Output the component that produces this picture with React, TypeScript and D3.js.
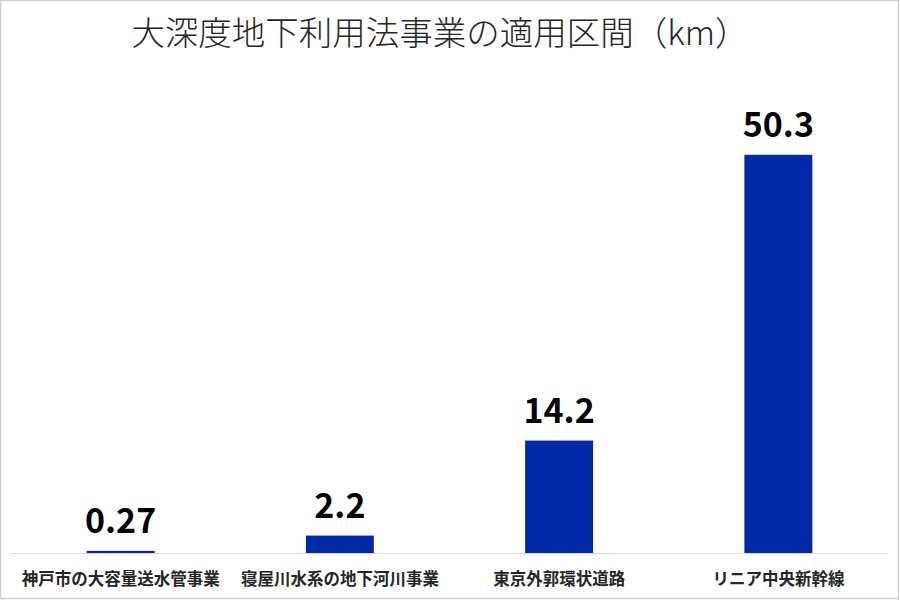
import React, { useEffect, useRef } from 'react';
import * as d3 from 'd3';

const title = '大深度地下利用法事業の適用区間（km）';
const categories: string[] = ['神戸市の大容量送水管事業', '寝屋川水系の地下河川事業', '東京外郭環状道路', 'リニア中央新幹線'];
const values: number[] = [0.27, 2.2, 14.2, 50.3];
const valueLabels: string[] = ['0.27', '2.2', '14.2', '50.3'];

const App: React.FC = () => {
    const svgRef = useRef<SVGSVGElement>(null);

    useEffect(() => {
        document.body.style.margin = '0';
        if (!svgRef.current) return;

        d3.select(svgRef.current).selectAll('*').remove();

        const width = 900;
        const height = 600;
        const baseY = 553;

        const svg = d3.select(svgRef.current)
            .attr('width', width)
            .attr('height', height);

        // background + thin frame
        svg.append('rect')
            .attr('x', 0.5).attr('y', 0.5)
            .attr('width', width - 2).attr('height', height - 2)
            .attr('fill', '#ffffff')
            .attr('stroke', '#d0d0d0')
            .attr('stroke-width', 1.5);

        const xScale = d3.scaleBand<string>()
            .domain(categories)
            .range([11, 888])
            .paddingInner(0.69)
            .paddingOuter(0.345);

        const yScale = d3.scaleLinear()
            .domain([0, 60])
            .range([baseY, 78]);

        // title
        svg.append('text')
            .attr('x', 440)
            .attr('y', 45)
            .attr('text-anchor', 'middle')
            .attr('font-family', '"Noto Sans CJK JP", sans-serif')
            .attr('font-weight', 300)
            .attr('font-size', 33.5)
            .attr('fill', '#262626')
            .text(title);

        const data = categories.map((c, i) => ({ name: c, value: values[i], label: valueLabels[i] }));

        // bars
        svg.selectAll('.bar')
            .data(data)
            .enter().append('rect')
            .attr('class', 'bar')
            .attr('x', d => xScale(d.name) as number)
            .attr('y', d => yScale(d.value))
            .attr('width', xScale.bandwidth())
            .attr('height', d => baseY - yScale(d.value))
            .attr('fill', '#0029A5');

        // axis line
        svg.append('line')
            .attr('x1', 11).attr('x2', 888)
            .attr('y1', baseY + 0.5).attr('y2', baseY + 0.5)
            .attr('stroke', '#d9d9d9')
            .attr('stroke-width', 1);

        // value labels
        svg.selectAll('.val')
            .data(data)
            .enter().append('text')
            .attr('class', 'val')
            .attr('x', d => (xScale(d.name) as number) + xScale.bandwidth() / 2)
            .attr('y', d => yScale(d.value) - 18)
            .attr('text-anchor', 'middle')
            .attr('font-family', '"Noto Sans CJK JP", sans-serif')
            .attr('font-weight', 700)
            .attr('font-size', 34)
            .attr('fill', '#000000')
            .text(d => d.label);

        // category labels
        svg.selectAll('.cat')
            .data(data)
            .enter().append('text')
            .attr('class', 'cat')
            .attr('x', d => (xScale(d.name) as number) + xScale.bandwidth() / 2)
            .attr('y', 585)
            .attr('text-anchor', 'middle')
            .attr('font-family', '"Noto Sans CJK JP", sans-serif')
            .attr('font-weight', 700)
            .attr('font-size', 16.5)
            .attr('fill', '#262626')
            .text(d => d.name);
    }, []);

    return <svg ref={svgRef} style={{ display: 'block' }}></svg>;
};

export default App;
